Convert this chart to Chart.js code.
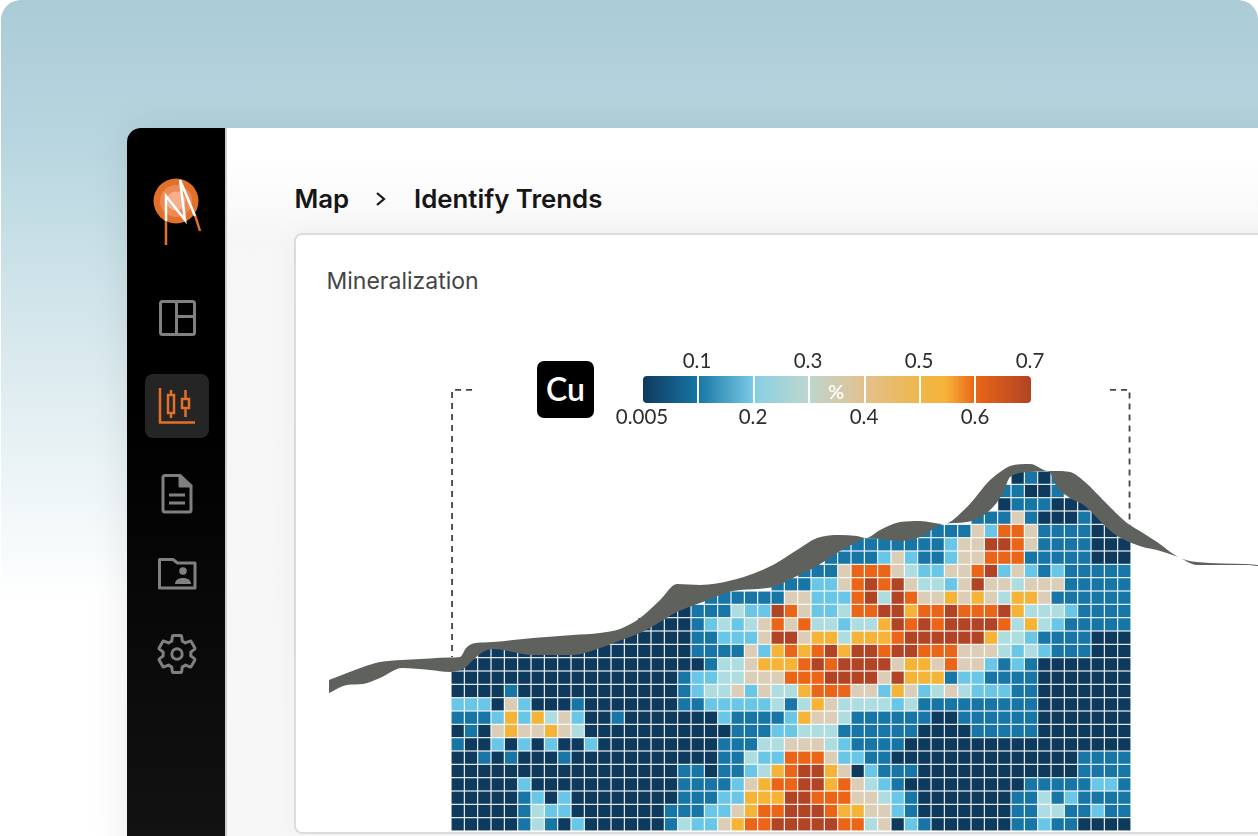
<!DOCTYPE html>
<html>
<head>
<meta charset="utf-8">
<title>Mineralization</title>
<script src="https://cdn.jsdelivr.net/npm/chart.js@4/dist/chart.umd.min.js"></script>
<style>
html, body { margin: 0; padding: 0; background: #fff; }
body { width: 1258px; height: 836px; overflow: hidden; position: relative; font-family: Inter, sans-serif; }
#bg { position: absolute; left: 1px; top: 0; width: 1257px; height: 836px; border-radius: 20px 20px 0 0;
  background: linear-gradient(180deg, #abcbd7 0, #b6d5df 130px, #d9e9ee 350px, #fff 600px); }
#panel { position: absolute; left: 127px; top: 128px; width: 1160px; height: 730px; background: #fff;
  border-radius: 14px 0 0 0; overflow: hidden; box-shadow: 0 0 40px rgba(0,0,0,.09); }
#side { position: absolute; left: 0; top: 0; width: 98px; height: 730px; background: linear-gradient(180deg, #000 40%, #131313 100%);
  border-right: 2px solid #cfcfcf; }
#tile { position: absolute; left: 18px; top: 246px; width: 64px; height: 64px; border-radius: 8px; background: #252525; }
#side svg { position: absolute; left: 0; top: 0; }
#main { position: absolute; left: 100px; top: 0; width: 1060px; height: 730px;
  background: linear-gradient(180deg, #fff 30px, #f6f6f6 110px, #f7f7f7 100%); }
.crumb { position: absolute; top: 183px; font-size: 25.8px; font-weight: 600; color: #161616; line-height: 32px; white-space: nowrap; }
#card { position: absolute; left: 294px; top: 233px; width: 1000px; height: 597px; background: #fff; border: 2px solid #dcdcdc;
  border-radius: 8px; box-shadow: 0 0 30px rgba(0,0,0,.04); }
#cardTitle { position: absolute; left: 326.5px; top: 267px; font-size: 23px; line-height: 28px; color: #454545; white-space: nowrap; }
#chartWrap { position: absolute; left: 297px; top: 236px; width: 961px; height: 595px; filter: blur(0.4px); }
#cu { position: absolute; left: 537px; top: 361px; width: 57px; height: 57px; border-radius: 7px; background: #000; color: #fff;
  font: 600 32px/55px Lato, sans-serif; text-align: center; }
#bar { position: absolute; left: 643px; top: 376px; width: 388px; height: 27px; border-radius: 4px;
  background: linear-gradient(90deg, #0f3a5f 0, #1776a5 14.3%, #7bcbe6 28.6%, #8dd0e2 30%, #bdd6cc 42.9%, #e3c08e 57.1%, #f0b64a 71.4%, #f5b33a 78%, #ea6516 85.7%, #b14424 100%); }
.sep { position: absolute; top: 376px; width: 2px; height: 27px; background: #fff; }
.tick { position: absolute; font: 400 20.5px/24px Lato, sans-serif; color: #2e2e2e; width: 70px; text-align: center; }
#pct { position: absolute; left: 816px; top: 379px; width: 40px; text-align: center; color: #fff; font: 600 20px/24px Lato, sans-serif; }
</style>
</head>
<body>
<div id="bg"></div>
<div id="panel">
  <div id="side">
    <div id="tile"></div>
    <svg width="98" height="730" viewBox="127 128 98 730" fill="none">
      <circle cx="176" cy="201" r="22.5" fill="#e2702a"/>
      <circle cx="176" cy="201" r="16" fill="#ea8a55"/>
      <circle cx="176" cy="201" r="9.5" fill="#f4b08c"/>
      <path d="M166 221V245M195 215L200 231" stroke="#e2702a" stroke-width="2.5"/>
      <path d="M166 221V196L185 220L180 180L195 216" stroke="#fff" stroke-width="2.5"/>
      <g stroke="#808080" stroke-width="3">
        <rect x="160.5" y="301.5" width="34" height="33" rx="2"/>
        <path d="M176.5 301V335M176.5 316.5H195"/>
      </g>
      <g stroke="#e2702a" stroke-width="2.5">
        <path d="M160 388V422.5H195"/>
        <rect x="168" y="395" width="6" height="18"/>
        <path d="M171 390V395M171 413V418"/>
        <rect x="182" y="399" width="7" height="9"/>
        <path d="M185.5 390V399M185.5 408V417"/>
      </g>
      <g stroke="#808080" stroke-width="3" stroke-linejoin="round">
        <path d="M180 475.5H165a2 2 0 0 0-2 2V510a2 2 0 0 0 2 2h24a2 2 0 0 0 2-2V486Z"/>
        <path d="M180 475.5L191 486H180Z" fill="#808080"/>
        <path d="M169 495H185M169 503H185"/>
      </g>
      <g stroke="#808080" stroke-width="3" stroke-linejoin="round">
        <path d="M159.500 559.500H173L177.500 563H195V588H159.500Z"/>
      </g>
      <circle cx="183" cy="571" r="3.800" fill="#808080"/>
      <path d="M175 584c0-4 3.500-6 8-6s8 2 8 6Z" fill="#808080"/>
      <g transform="translate(154.800 631.800) scale(1.850)" stroke="#808080" stroke-width="1.600" stroke-linejoin="round">
        <path d="M19.430 12.980c.04-.32.07-.64.07-.98 0-.34-.03-.66-.07-.98l2.110-1.650c.19-.15.24-.42.12-.64l-2-3.460c-.12-.22-.39-.3-.61-.22l-2.490 1c-.52-.4-1.080-.73-1.690-.98l-.38-2.650C14.460 2.180 14.250 2 14 2h-4c-.25 0-.46.18-.49.42l-.38 2.650c-.61.25-1.170.59-1.690.98l-2.490-1c-.23-.09-.49 0-.61.22l-2 3.460c-.13.22-.07.49.12.64l2.110 1.650c-.04.32-.07.65-.07.98 0 .33.03.66.07.98l-2.110 1.650c-.19.15-.24.42-.12.64l2 3.460c.12.22.39.3.61.22l2.490-1c.52.4 1.080.73 1.690.98l.38 2.650c.03.24.24.42.49.42h4c.25 0 .46-.18.49-.42l.38-2.650c.61-.25 1.170-.59 1.690-.98l2.490 1c.23.09.49 0 .61-.22l2-3.460c.12-.22.07-.49-.12-.64l-2.110-1.650z"/>
        <circle cx="12" cy="12" r="2.800"/>
      </g>
    </svg>
  </div>
  <div id="main"></div>
</div>
<div class="crumb" style="left:294.5px">Map</div>
<svg style="position:absolute;left:374px;top:191px" width="14" height="16" fill="none"><path d="M3 2L10 8L3 14" stroke="#161616" stroke-width="2.200"/></svg>
<div class="crumb" style="left:414px">Identify Trends</div>
<div id="card"></div>
<div id="cardTitle">Mineralization</div>
<div id="chartWrap"><canvas id="section" width="961" height="595"></canvas></div>
<div id="cu">Cu</div>
<div id="bar"></div>
<div id="pct">%</div>
<script>
// copper bands, lowest to highest
const bandColors = ['#0e3a5e', '#1776a5', '#69c6e6', '#addce1', '#dccdb6', '#f5b338', '#ea6517', '#b14424'];
const legendTop = ['0.1', '0.3', '0.5', '0.7'];
const legendBottom = ['0.005', '0.2', '0.4', '0.6'];

// one string per block row, one digit per column, '.' = above ground
const cuRows = [
  '..........................................0101.....',
  '.........................................11001.....',
  '.........................................0111000...',
  '.......................................1114100010..',
  '...................................1111426641111000',
  '.............................1111111124477641111000',
  '............................11112421124466611111000',
  '..........................1114666432244672421211111',
  '........................111224676743324744344411111',
  '...................11111144222673764454543554111111',
  '................00111322764223667756676667533321111',
  '..............0000123234646332335767677776353211111',
  '............000000112224774553555677777753321111000',
  '..0000000000000000111142565675776776664443232111000',
  '000000000000000000013345556767777455464421210000000',
  '000000000000000001223344466677774755512211110000000',
  '000010000000000001233424335666442542343222110000000',
  '222042000100000001122222313543333231111111110000000',
  '111252534200100000002111125443111111001111110000000',
  '010454454300000000000111223331111110000111110000000',
  '100202020020000000001113344432111100000000000000000',
  '001010001000000000001132266642211000000000000001111',
  '000000000000000001101123567754021110000000000001111',
  '000002000000000001111245667756432100000000011111221',
  '000001202000000001112255577666443210000000113121111',
  '000001322000000011122456677765544210000000113311211',
  '000001310200000013224566777776634021000000112110000'
];

// ground band, in block units
const groundX = [-9.15, -7.8, -6.6, -5.33, -3.68, -1.58, -0.08, 0.68, 1.13, 1.65, 2.4, 3.15, 6.15, 9.15, 11.18, 12.68, 14.18, 15.68, 16.95, 18.68, 21.15, 24.15, 25.95, 27.45, 29.18, 30.45, 31.13, 32.18, 33.68, 35.18, 36.9, 38.7, 40.43, 41.4, 41.93, 43.43, 44.78, 45.45, 46.43, 47.55, 48.9, 49.65, 50.7, 51.9, 52.95, 54.53, 55.95, 59.7, 60.53];
const groundTop = [15.68, 15.15, 14.7, 14.33, 14.18, 14.06, 13.99, 13.95, 13.28, 12.94, 12.86, 12.83, 12.53, 12.3, 12.15, 11.85, 11.03, 9.68, 8.48, 8.55, 8.18, 7.05, 5.93, 5.03, 4.8, 4.88, 5.03, 4.43, 3.83, 3.75, 3.98, 2.7, 0.68, -0.08, -0.38, -0.53, 0, 0, 0.08, 0.83, 2.18, 2.93, 3.9, 4.65, 5.33, 6.45, 6.83, 6.98, 7.05];
const groundLow = [16.65, 16.05, 15.98, 15.53, 14.78, 14.93, 15.08, 14.93, 14.7, 14.18, 13.58, 13.35, 13.8, 13.8, 13.28, 12.71, 12.15, 11.33, 10.58, 9.9, 9, 8.7, 7.88, 7.13, 6, 5.33, 5.03, 5.1, 5.25, 4.95, 3.98, 3.83, 2.93, 1.65, 0.45, 0.08, 0, 1.2, 2.03, 2.63, 3.98, 4.65, 5.25, 5.7, 5.93, 6.45, 7.05, 7.05, 7.13];

// dashed section limits
const limitLeftX = [1.58, 0.08, 0.08];
const limitLeftY = [-6.08, -6.08, 13.95];
const limitRightX = [49.43, 50.89, 50.89];
const limitRightY = [-6.08, -6.08, 3.9];

const cells = [];
cuRows.forEach((row, r) => {
  row.split('').forEach((band, c) => {
    if (band !== '.') cells.push({x: c + 0.5, y: r + 0.5, band: +band});
  });
});

const zip = (xs, ys) => xs.map((x, i) => ({x: x, y: ys[i]}));

new Chart(document.getElementById('section'), {
  type: 'scatter',
  data: {
    datasets: [
      {
        label: 'Cu',
        data: cells,
        order: 3,
        pointStyle: 'rect',
        pointRadius: 8.65,
        pointBorderWidth: 0,
        backgroundColor: ctx => bandColors[ctx.raw ? ctx.raw.band : 0]
      },
      {
        label: 'Ground top',
        data: zip(groundX, groundTop),
        order: 1,
        showLine: true,
        fill: '+1',
        backgroundColor: '#5f615c',
        borderWidth: 0,
        pointRadius: 0,
        cubicInterpolationMode: 'monotone'
      },
      {
        label: 'Ground low',
        data: zip(groundX, groundLow),
        order: 1,
        showLine: true,
        borderWidth: 0,
        pointRadius: 0,
        cubicInterpolationMode: 'monotone'
      },
      {
        label: 'Limit left',
        data: zip(limitLeftX, limitLeftY),
        order: 2,
        showLine: true,
        borderColor: '#444',
        borderWidth: 1.8,
        borderDash: [6, 5],
        pointRadius: 0
      },
      {
        label: 'Limit right',
        data: zip(limitRightX, limitRightY),
        order: 2,
        showLine: true,
        borderColor: '#444',
        borderWidth: 1.8,
        borderDash: [6, 5],
        pointRadius: 0
      }
    ]
  },
  options: {
    responsive: false,
    animation: false,
    layout: {padding: 0, autoPadding: false},
    plugins: {legend: {display: false}, tooltip: {enabled: false}},
    scales: {
      x: {type: 'linear', display: false, min: -11.55, max: 60.525},
      y: {type: 'linear', display: false, reverse: true, min: -17.625, max: 27}
    }
  }
});

// colour bar ticks
const sepX = [698, 754, 809, 865, 920, 975];
sepX.forEach(x => {
  const d = document.createElement('div');
  d.className = 'sep';
  d.style.left = (x - 1) + 'px';
  document.body.appendChild(d);
});
const addTick = (text, cx, top) => {
  const d = document.createElement('div');
  d.className = 'tick';
  d.textContent = text;
  d.style.left = (cx - 35) + 'px';
  d.style.top = top + 'px';
  document.body.appendChild(d);
};
legendTop.forEach((t, i) => addTick(t, 697 + i * 111, 348));
legendBottom.forEach((t, i) => addTick(t, 642 + i * 111, 404));
</script>
</body>
</html>
